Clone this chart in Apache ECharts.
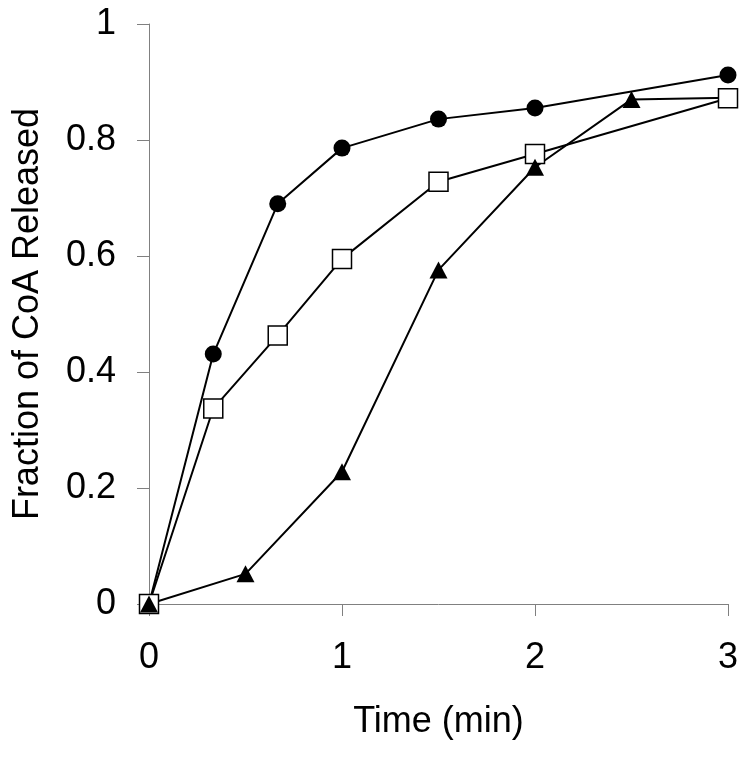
<!DOCTYPE html>
<html>
<head>
<meta charset="utf-8">
<script src="https://cdn.jsdelivr.net/npm/echarts@6/dist/echarts.min.js"></script>
<style>html,body{margin:0;padding:0;background:#fff}#c{width:751px;height:758px}</style>
</head>
<body>
<div id="c"></div>
<script>
// Data
const circleX = [0, 0.333, 0.667, 1, 1.5, 2, 3];
const circleY = [0, 0.431, 0.690, 0.786, 0.836, 0.855, 0.912];
const squareX = [0, 0.333, 0.667, 1, 1.5, 2, 3];
const squareY = [0, 0.337, 0.463, 0.595, 0.728, 0.776, 0.872];
const triangleX = [0, 0.5, 1, 1.5, 2, 2.5];
const triangleY = [0, 0.052, 0.228, 0.576, 0.753, 0.870];
// lines continue slightly past the last plotted time (clipped stubs)
const circleTail = [3.06, 0.914];
const triangleTail = [3.06, 0.873];
const xTicks = [0, 1, 2, 3];
const yTicks = [0, 0.2, 0.4, 0.6, 0.8, 1];

const FONT = 'Liberation Sans, Arial, sans-serif';
function pts(xs, ys, tail) {
  const d = xs.map((x, i) => [x, ys[i]]);
  if (tail) d.push({ value: tail, symbol: 'none' });
  return d;
}
const chart = echarts.init(document.getElementById('c'));
const axisCommon = {
  axisLine: { show: true, lineStyle: { color: '#808080', width: 1 } },
  axisTick: { show: true, length: 12, lineStyle: { color: '#808080', width: 1 } },
  splitLine: { show: false },
  nameLocation: 'middle',
  nameTextStyle: { fontFamily: FONT, fontSize: 36, color: '#000' }
};
chart.setOption({
  animation: false,
  backgroundColor: '#fff',
  grid: { left: 149, right: 23, top: 24, bottom: 154, containLabel: false },
  xAxis: Object.assign({}, axisCommon, {
    type: 'value', min: xTicks[0], max: xTicks[xTicks.length - 1], interval: 1,
    name: 'Time (min)', nameGap: 100,
    axisLabel: { fontFamily: FONT, fontSize: 36, color: '#000', margin: 36 }
  }),
  yAxis: Object.assign({}, axisCommon, {
    type: 'value', min: yTicks[0], max: yTicks[yTicks.length - 1], interval: 0.2,
    name: 'Fraction of CoA Released', nameGap: 103, nameRotate: 90,
    axisLabel: { fontFamily: FONT, fontSize: 36, color: '#000', margin: 33 }
  }),
  series: [
    {
      type: 'line', data: pts(circleX, circleY, circleTail), clip: false,
      symbol: 'circle', symbolSize: 17, showAllSymbol: true,
      lineStyle: { color: '#000', width: 2 },
      itemStyle: { color: '#000', borderColor: '#000', borderWidth: 0 }, z: 1
    },
    {
      // triangle series line (drawn beneath the squares)
      type: 'line', data: pts(triangleX, triangleY, triangleTail), clip: false,
      showSymbol: false, symbol: 'none',
      lineStyle: { color: '#000', width: 2 }, z: 1
    },
    {
      type: 'line', data: pts(squareX, squareY), clip: false,
      symbol: 'rect', symbolSize: 19, showAllSymbol: true,
      lineStyle: { color: '#000', width: 2 },
      itemStyle: { color: '#fff', borderColor: '#000', borderWidth: 1.5 }, z: 2
    },
    {
      // triangle markers on top
      type: 'scatter', data: pts(triangleX, triangleY), clip: false,
      symbol: 'triangle', symbolSize: [18, 17],
      itemStyle: { color: '#000', opacity: 1 }, z: 3
    }
  ]
});
</script>
</body>
</html>
